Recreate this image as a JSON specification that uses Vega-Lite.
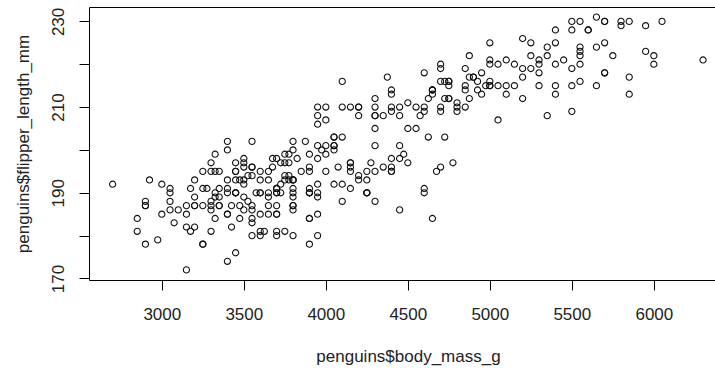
{
"$schema": "https://vega.github.io/schema/vega-lite/v6.json",
"width": 626, "height": 273,
"autosize": {"type": "none"},
"padding": {"left": 89, "top": 7, "right": 0, "bottom": 90},
"background": "white",
"config": {"view": {"stroke": "black", "strokeWidth": 1}, "font": "Liberation Sans"},
"data": {"values": [
{"mass":3750,"flipper":181},{"mass":3800,"flipper":186},{"mass":3250,"flipper":195},{"mass":3450,"flipper":193},{"mass":3650,"flipper":190},{"mass":3625,"flipper":181},{"mass":4675,"flipper":195},{"mass":3475,"flipper":193},{"mass":4250,"flipper":190},{"mass":3300,"flipper":186},
{"mass":3700,"flipper":180},{"mass":3200,"flipper":182},{"mass":3800,"flipper":191},{"mass":4400,"flipper":198},{"mass":3700,"flipper":185},{"mass":3450,"flipper":195},{"mass":4500,"flipper":197},{"mass":3325,"flipper":184},{"mass":4200,"flipper":194},{"mass":3400,"flipper":174},
{"mass":3600,"flipper":180},{"mass":3800,"flipper":189},{"mass":3950,"flipper":185},{"mass":3800,"flipper":180},{"mass":3800,"flipper":187},{"mass":3550,"flipper":183},{"mass":3200,"flipper":187},{"mass":3150,"flipper":172},{"mass":3950,"flipper":180},{"mass":3250,"flipper":178},
{"mass":3900,"flipper":178},{"mass":3300,"flipper":188},{"mass":3900,"flipper":184},{"mass":3325,"flipper":195},{"mass":4150,"flipper":196},{"mass":3950,"flipper":190},{"mass":3550,"flipper":180},{"mass":3300,"flipper":181},{"mass":4650,"flipper":184},{"mass":3150,"flipper":182},
{"mass":3900,"flipper":195},{"mass":3100,"flipper":186},{"mass":4400,"flipper":196},{"mass":3000,"flipper":185},{"mass":4600,"flipper":190},{"mass":3425,"flipper":182},{"mass":2975,"flipper":179},{"mass":3450,"flipper":190},{"mass":4150,"flipper":191},{"mass":3500,"flipper":186},
{"mass":4300,"flipper":188},{"mass":3450,"flipper":190},{"mass":4050,"flipper":200},{"mass":2900,"flipper":187},{"mass":3700,"flipper":191},{"mass":3550,"flipper":186},{"mass":3800,"flipper":193},{"mass":2850,"flipper":181},{"mass":3750,"flipper":194},{"mass":3150,"flipper":185},
{"mass":4400,"flipper":195},{"mass":3600,"flipper":185},{"mass":4050,"flipper":192},{"mass":2850,"flipper":184},{"mass":3950,"flipper":192},{"mass":3350,"flipper":195},{"mass":4100,"flipper":188},{"mass":3050,"flipper":190},{"mass":4450,"flipper":198},{"mass":3600,"flipper":190},
{"mass":3900,"flipper":190},{"mass":3550,"flipper":196},{"mass":4150,"flipper":197},{"mass":3700,"flipper":190},{"mass":4250,"flipper":195},{"mass":3700,"flipper":191},{"mass":3900,"flipper":184},{"mass":3550,"flipper":187},{"mass":4000,"flipper":195},{"mass":3200,"flipper":189},
{"mass":4700,"flipper":196},{"mass":3800,"flipper":187},{"mass":4200,"flipper":193},{"mass":3350,"flipper":191},{"mass":3550,"flipper":194},{"mass":3800,"flipper":190},{"mass":3500,"flipper":189},{"mass":3950,"flipper":189},{"mass":3600,"flipper":190},{"mass":3550,"flipper":202},
{"mass":4300,"flipper":205},{"mass":3400,"flipper":185},{"mass":4450,"flipper":186},{"mass":3300,"flipper":187},{"mass":4300,"flipper":208},{"mass":3700,"flipper":190},{"mass":4350,"flipper":196},{"mass":2900,"flipper":178},{"mass":4100,"flipper":192},{"mass":3725,"flipper":192},
{"mass":4725,"flipper":203},{"mass":3075,"flipper":183},{"mass":4250,"flipper":190},{"mass":2925,"flipper":193},{"mass":3550,"flipper":184},{"mass":3750,"flipper":199},{"mass":3900,"flipper":190},{"mass":3175,"flipper":181},{"mass":4775,"flipper":197},{"mass":3825,"flipper":198},
{"mass":4600,"flipper":191},{"mass":3200,"flipper":193},{"mass":4275,"flipper":197},{"mass":3900,"flipper":191},{"mass":4075,"flipper":196},{"mass":2900,"flipper":188},{"mass":3775,"flipper":199},{"mass":3350,"flipper":189},{"mass":3325,"flipper":189},{"mass":3150,"flipper":187},
{"mass":3500,"flipper":198},{"mass":3450,"flipper":176},{"mass":3875,"flipper":202},{"mass":3050,"flipper":186},{"mass":4000,"flipper":199},{"mass":3275,"flipper":191},{"mass":4300,"flipper":195},{"mass":3050,"flipper":191},{"mass":4000,"flipper":210},{"mass":3325,"flipper":190},
{"mass":3500,"flipper":197},{"mass":3500,"flipper":193},{"mass":4475,"flipper":199},{"mass":3425,"flipper":187},{"mass":3900,"flipper":190},{"mass":3175,"flipper":191},{"mass":3975,"flipper":200},{"mass":3400,"flipper":185},{"mass":4250,"flipper":193},{"mass":3400,"flipper":193},
{"mass":3475,"flipper":187},{"mass":3050,"flipper":188},{"mass":3725,"flipper":190},{"mass":3000,"flipper":192},{"mass":3650,"flipper":185},{"mass":4250,"flipper":190},{"mass":3475,"flipper":184},{"mass":3450,"flipper":195},{"mass":3750,"flipper":193},{"mass":3700,"flipper":187},
{"mass":4000,"flipper":201},
{"mass":4500,"flipper":211},{"mass":5700,"flipper":230},{"mass":4450,"flipper":210},{"mass":5700,"flipper":218},{"mass":5400,"flipper":215},{"mass":4550,"flipper":210},{"mass":4800,"flipper":211},{"mass":5200,"flipper":219},{"mass":4400,"flipper":209},{"mass":5150,"flipper":215},
{"mass":4650,"flipper":214},{"mass":5550,"flipper":216},{"mass":4650,"flipper":214},{"mass":5850,"flipper":213},{"mass":4200,"flipper":210},{"mass":5850,"flipper":217},{"mass":4150,"flipper":210},{"mass":6300,"flipper":221},{"mass":4800,"flipper":209},{"mass":5350,"flipper":222},
{"mass":5700,"flipper":218},{"mass":5000,"flipper":215},{"mass":4400,"flipper":213},{"mass":5050,"flipper":215},{"mass":5000,"flipper":215},{"mass":5100,"flipper":215},{"mass":4100,"flipper":216},{"mass":5650,"flipper":215},{"mass":4600,"flipper":210},{"mass":5550,"flipper":220},
{"mass":5250,"flipper":222},{"mass":4700,"flipper":209},{"mass":5050,"flipper":207},{"mass":6050,"flipper":230},{"mass":5150,"flipper":220},{"mass":5400,"flipper":220},{"mass":4950,"flipper":213},{"mass":5250,"flipper":219},{"mass":4350,"flipper":208},{"mass":5350,"flipper":208},
{"mass":3950,"flipper":208},{"mass":5700,"flipper":225},{"mass":4300,"flipper":210},{"mass":4750,"flipper":216},{"mass":5550,"flipper":222},{"mass":4900,"flipper":217},{"mass":4200,"flipper":210},{"mass":5400,"flipper":225},{"mass":5100,"flipper":213},{"mass":5300,"flipper":215},
{"mass":4850,"flipper":210},{"mass":5300,"flipper":220},{"mass":4400,"flipper":210},{"mass":5000,"flipper":225},{"mass":4900,"flipper":217},{"mass":5050,"flipper":220},{"mass":4300,"flipper":208},{"mass":5000,"flipper":220},{"mass":4450,"flipper":208},{"mass":5550,"flipper":224},
{"mass":4200,"flipper":208},{"mass":5300,"flipper":221},{"mass":4400,"flipper":214},{"mass":5650,"flipper":231},{"mass":4700,"flipper":219},{"mass":5700,"flipper":230},{"mass":4650,"flipper":214},{"mass":5800,"flipper":229},{"mass":4700,"flipper":220},{"mass":5550,"flipper":223},
{"mass":4750,"flipper":216},{"mass":5000,"flipper":221},{"mass":5100,"flipper":221},{"mass":5200,"flipper":217},{"mass":4700,"flipper":216},{"mass":5800,"flipper":230},{"mass":4600,"flipper":209},{"mass":6000,"flipper":220},{"mass":4750,"flipper":215},{"mass":5950,"flipper":223},
{"mass":4625,"flipper":212},{"mass":5450,"flipper":221},{"mass":4725,"flipper":212},{"mass":5350,"flipper":224},{"mass":4750,"flipper":212},{"mass":5600,"flipper":228},{"mass":4600,"flipper":218},{"mass":5300,"flipper":218},{"mass":4875,"flipper":212},{"mass":5550,"flipper":230},
{"mass":4950,"flipper":218},{"mass":5400,"flipper":228},{"mass":4750,"flipper":212},{"mass":5650,"flipper":224},{"mass":4850,"flipper":214},{"mass":5200,"flipper":226},{"mass":4925,"flipper":216},{"mass":4875,"flipper":222},{"mass":4625,"flipper":203},{"mass":5250,"flipper":225},
{"mass":4850,"flipper":219},{"mass":5600,"flipper":228},{"mass":4975,"flipper":215},{"mass":5500,"flipper":228},{"mass":4725,"flipper":216},{"mass":5500,"flipper":215},{"mass":4700,"flipper":210},{"mass":5500,"flipper":219},{"mass":4575,"flipper":208},{"mass":5500,"flipper":209},
{"mass":5000,"flipper":216},{"mass":5950,"flipper":229},{"mass":4650,"flipper":213},{"mass":5500,"flipper":230},{"mass":4375,"flipper":217},{"mass":5850,"flipper":230},{"mass":4875,"flipper":217},{"mass":6000,"flipper":222},{"mass":4925,"flipper":214},{"mass":4850,"flipper":215},
{"mass":5750,"flipper":222},{"mass":5200,"flipper":212},{"mass":5400,"flipper":213},
{"mass":3500,"flipper":192},{"mass":3900,"flipper":196},{"mass":3650,"flipper":193},{"mass":3525,"flipper":188},{"mass":3725,"flipper":197},{"mass":3950,"flipper":198},{"mass":3250,"flipper":178},{"mass":3750,"flipper":197},{"mass":4150,"flipper":195},{"mass":3700,"flipper":198},
{"mass":3800,"flipper":193},{"mass":3775,"flipper":194},{"mass":3700,"flipper":185},{"mass":4050,"flipper":201},{"mass":3575,"flipper":190},{"mass":4050,"flipper":201},{"mass":3300,"flipper":197},{"mass":3700,"flipper":181},{"mass":3450,"flipper":190},{"mass":4400,"flipper":195},
{"mass":3600,"flipper":181},{"mass":3400,"flipper":191},{"mass":2900,"flipper":187},{"mass":3800,"flipper":193},{"mass":3300,"flipper":195},{"mass":4150,"flipper":197},{"mass":3400,"flipper":200},{"mass":3800,"flipper":200},{"mass":3700,"flipper":191},{"mass":4550,"flipper":205},
{"mass":3200,"flipper":187},{"mass":4300,"flipper":201},{"mass":3350,"flipper":187},{"mass":4100,"flipper":203},{"mass":3600,"flipper":195},{"mass":3900,"flipper":199},{"mass":3850,"flipper":195},{"mass":4800,"flipper":210},{"mass":2700,"flipper":192},{"mass":4500,"flipper":205},
{"mass":3950,"flipper":210},{"mass":3650,"flipper":187},{"mass":3550,"flipper":196},{"mass":3500,"flipper":196},{"mass":3675,"flipper":196},{"mass":4450,"flipper":201},{"mass":3400,"flipper":190},{"mass":4300,"flipper":212},{"mass":3250,"flipper":187},{"mass":3675,"flipper":198},
{"mass":3325,"flipper":199},{"mass":3950,"flipper":201},{"mass":3600,"flipper":193},{"mass":4050,"flipper":203},{"mass":3350,"flipper":187},{"mass":3450,"flipper":197},{"mass":3250,"flipper":191},{"mass":4050,"flipper":203},{"mass":3800,"flipper":202},{"mass":3525,"flipper":194},
{"mass":3950,"flipper":206},{"mass":3650,"flipper":189},{"mass":3650,"flipper":195},{"mass":4000,"flipper":207},{"mass":3400,"flipper":202},{"mass":3775,"flipper":193},{"mass":4100,"flipper":210},{"mass":3775,"flipper":197}
]},
"mark": {"type": "point", "shape": "circle", "filled": false, "stroke": "#111111", "strokeWidth": 1.1, "size": 38, "opacity": 1},
"encoding": {
"x": {"field": "mass", "type": "quantitative",
 "scale": {"domain": [2556, 6373], "nice": false, "zero": false},
 "axis": {"title": "penguins$body_mass_g", "values": [3000, 3500, 4000, 4500, 5000, 5500, 6000], "format": "d",
  "grid": false, "domain": false, "ticks": true, "tickSize": 10, "tickColor": "black", "tickWidth": 1,
  "labelFontSize": 17, "labelColor": "#222222", "labelPadding": 29.3, "labelBaseline": "alphabetic", "labelOverlap": false, "labelFlush": false,
  "titleFontSize": 17, "titleFontWeight": "normal", "titleColor": "#222222", "titleX": 319, "titleY": 81.7, "titleBaseline": "alphabetic", "titleAlign": "center"}},
"y": {"field": "flipper", "type": "quantitative",
 "scale": {"domain": [169.64, 233.36], "nice": false, "zero": false},
 "axis": {"title": "penguins$flipper_length_mm", "values": [170, 180, 190, 200, 210, 220, 230], "format": "d",
  "labelExpr": "datum.value % 20 == 10 ? datum.label : ''",
  "grid": false, "domain": false, "ticks": true, "tickSize": 10, "tickColor": "black", "tickWidth": 1,
  "labelFontSize": 17, "labelColor": "#222222", "labelAngle": -90, "labelAlign": "center", "labelBaseline": "alphabetic", "labelPadding": 15.7, "labelOverlap": false, "labelFlush": false,
  "titleFontSize": 17, "titleFontWeight": "normal", "titleColor": "#222222", "titleAngle": -90, "titleX": -60.7, "titleY": 136.5, "titleBaseline": "alphabetic", "titleAlign": "center"}}
}
}
